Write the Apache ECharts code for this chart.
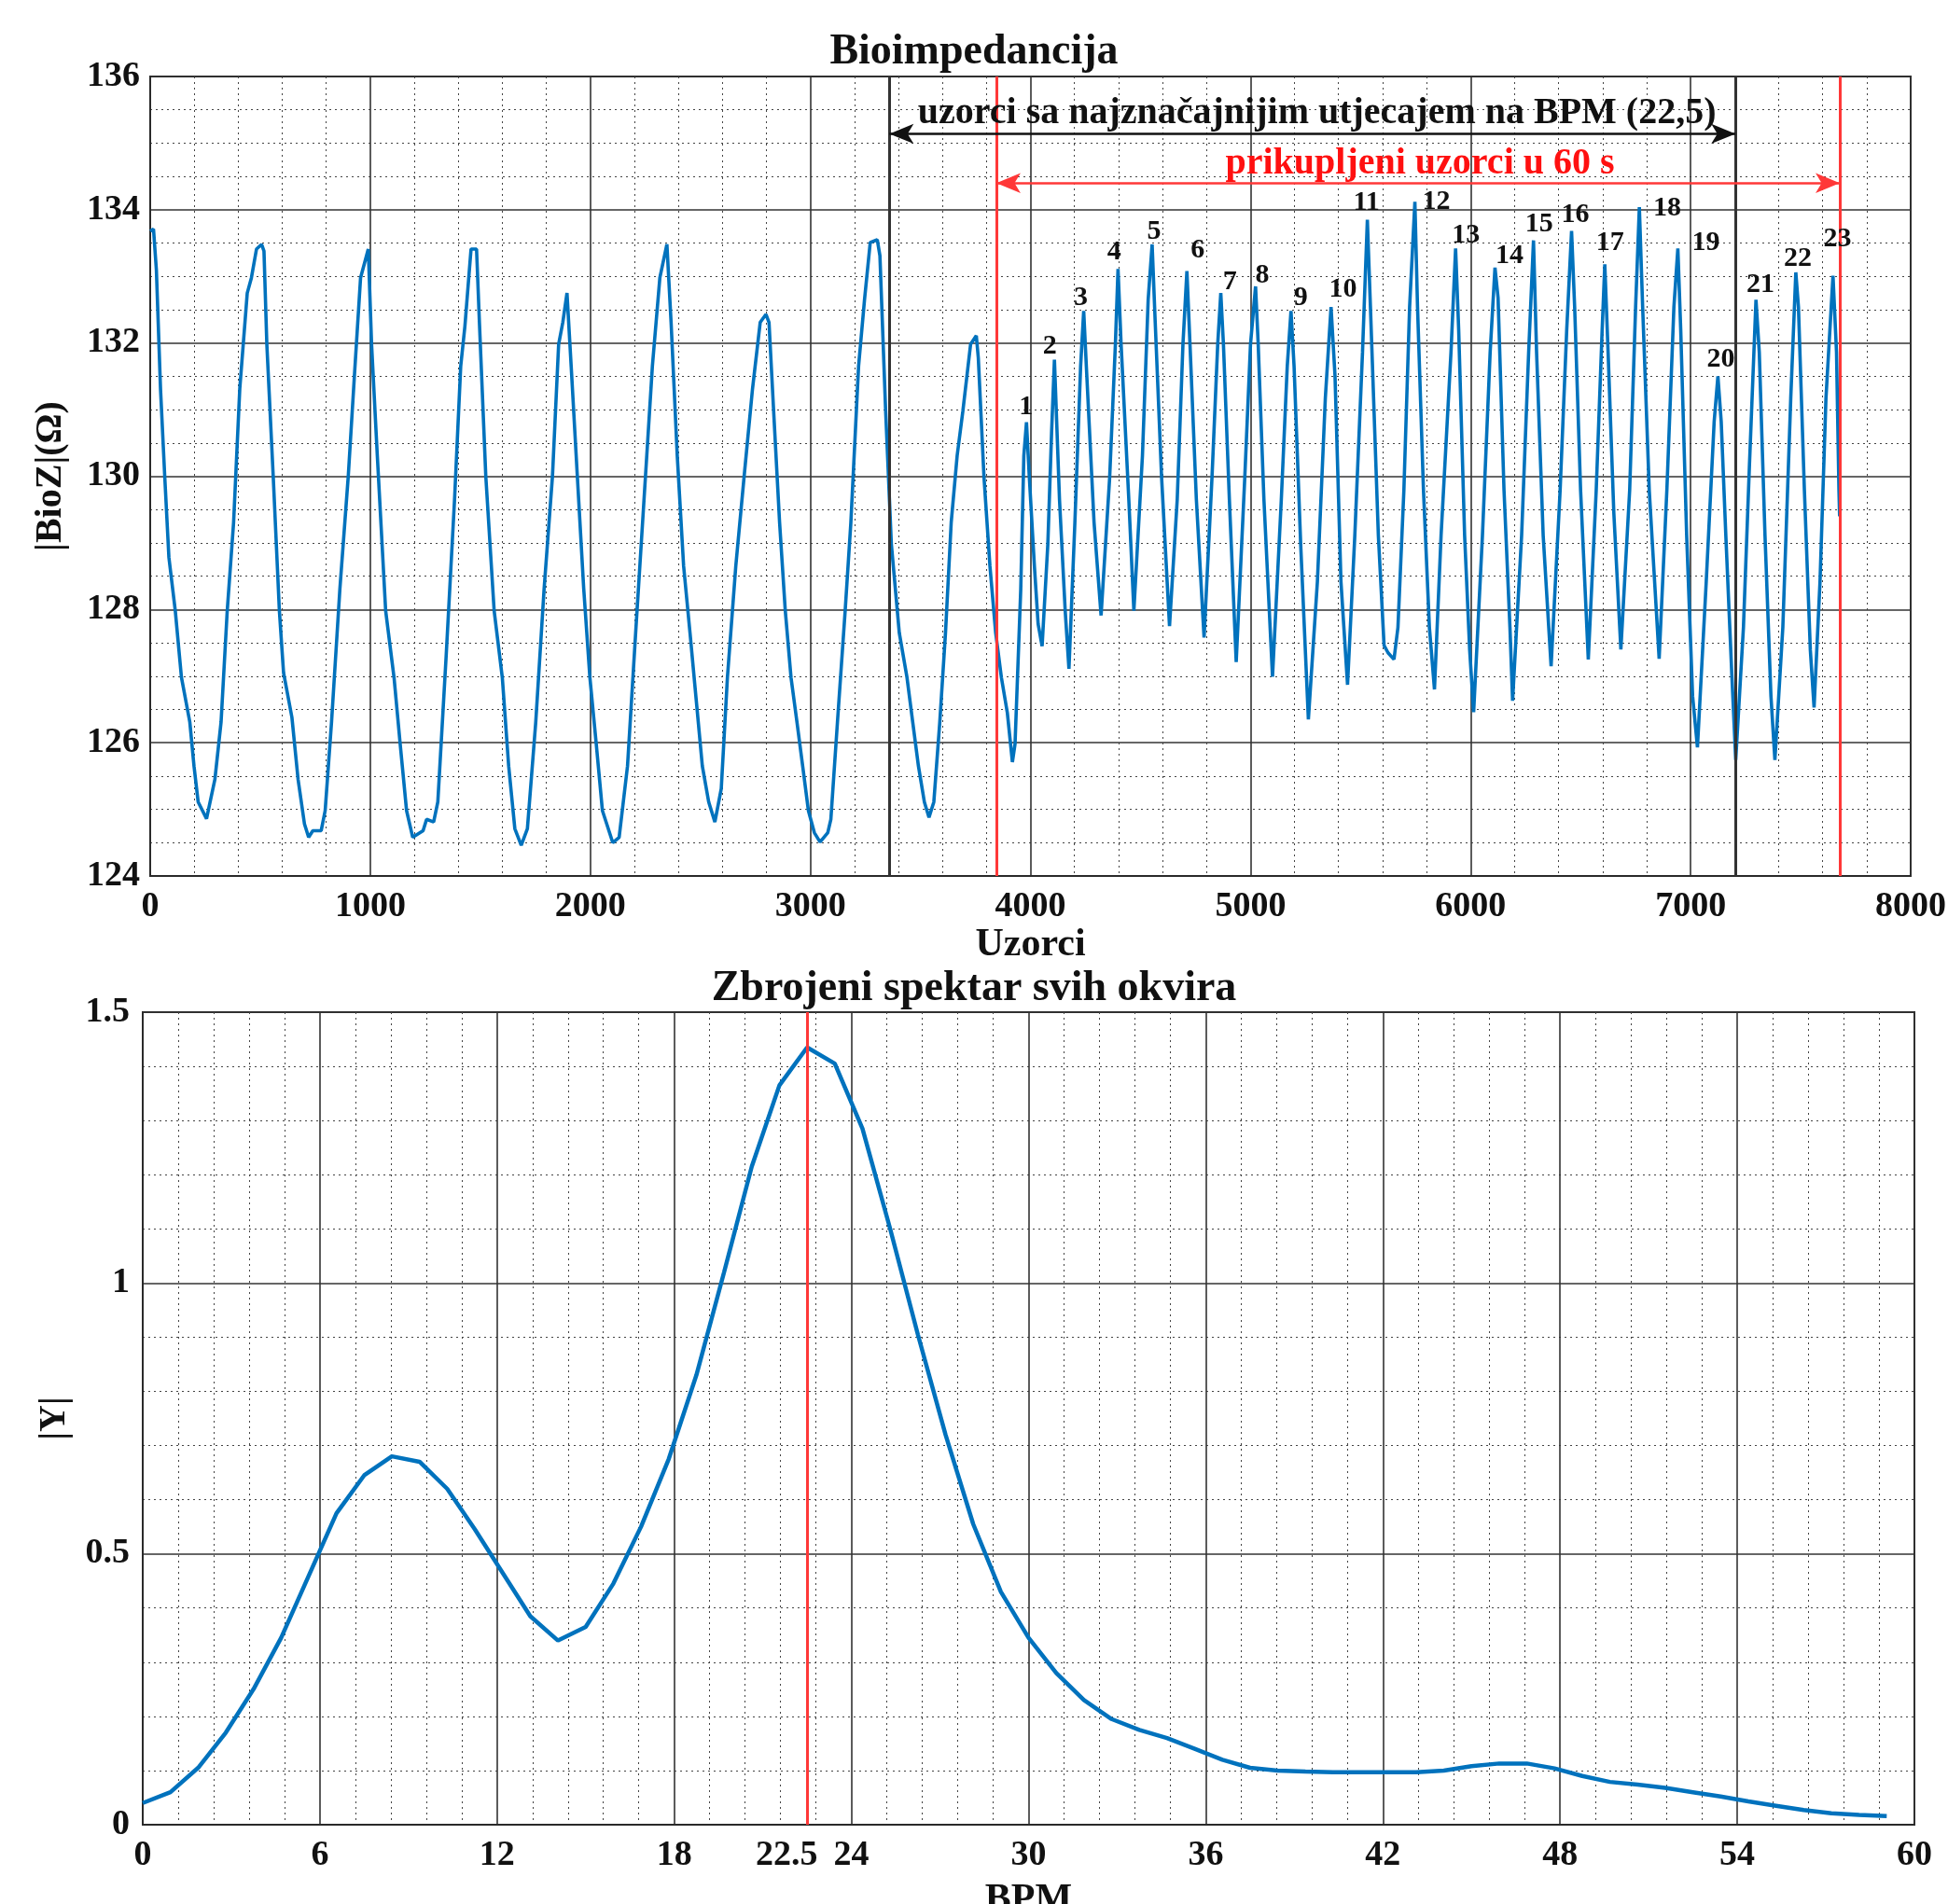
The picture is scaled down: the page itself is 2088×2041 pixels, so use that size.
<!DOCTYPE html>
<html><head><meta charset="utf-8">
<script src="https://cdn.jsdelivr.net/npm/echarts@6/dist/echarts.min.js"></script>
<style>html,body{margin:0;padding:0;background:#fff}#c{width:2088px;height:2041px}</style>
</head><body><div id="c"></div>
<script>
// ---- Top chart: bioimpedance signal (sample index, |BioZ| in ohm) ----
const bioSamples = [0,15,28,47,66,85,114,142,180,199,218,256,294,322,350,379,407,441,460,483,506,517,530,559,587,606,644,672,701,720,739,777,795,824,862,900,928,956,991,1006,1032,1070,1108,1136,1165,1193,1240,1256,1288,1307,1345,1383,1411,1430,1458,1483,1496,1525,1563,1600,1629,1657,1686,1714,1752,1790,1828,1856,1875,1894,1913,1941,1970,1998,2027,2055,2102,2131,2169,2206,2244,2282,2316,2348,2367,2395,2424,2453,2481,2509,2538,2566,2595,2623,2661,2699,2737,2772,2798,2812,2833,2860,2886,2912,2939,2965,2991,3018,3044,3079,3093,3123,3158,3184,3219,3246,3272,3304,3316,3342,3368,3404,3439,3465,3491,3518,3539,3561,3588,3614,3640,3667,3693,3728,3754,3763,3789,3816,3842,3868,3895,3918,3930,3956,3970,3982,3995,4018,4035,4053,4079,4096,4109,4132,4158,4175,4202,4228,4242,4254,4289,4321,4360,4386,4398,4412,4447,4470,4509,4535,4553,4567,4596,4632,4667,4693,4711,4725,4754,4789,4825,4851,4865,4877,4904,4935,4974,5000,5023,5035,5061,5100,5140,5167,5184,5198,5228,5263,5304,5340,5366,5384,5411,5441,5474,5509,5531,5545,5581,5607,5625,5652,5670,5697,5723,5747,5759,5786,5813,5836,5866,5911,5932,5946,5973,5996,6014,6054,6089,6111,6125,6152,6179,6191,6232,6264,6286,6300,6330,6366,6407,6437,6459,6473,6500,6535,6571,6598,6610,6625,6651,6683,6723,6750,6767,6782,6812,6857,6892,6924,6942,6955,6982,7009,7031,7071,7107,7124,7139,7160,7187,7205,7240,7267,7297,7312,7338,7365,7383,7419,7455,7478,7490,7517,7544,7561,7588,7615,7647,7663,7674,7677];
const bioValues = [133.68,133.71,133.1,131.3,130.0,128.78,127.98,126.98,126.31,125.65,125.11,124.86,125.45,126.31,127.98,129.31,131.31,132.75,132.98,133.41,133.48,133.38,131.98,130.0,127.98,127.05,126.38,125.45,124.78,124.58,124.68,124.68,124.98,126.31,128.31,130.0,131.51,132.98,133.41,131.98,130.31,127.98,126.98,125.98,124.98,124.58,124.68,124.85,124.81,125.11,127.31,129.65,131.65,132.25,133.41,133.41,132.31,130.0,127.98,126.98,125.65,124.71,124.46,124.71,126.31,128.31,130.0,131.98,132.31,132.75,131.65,130.0,128.31,126.98,125.98,124.98,124.5,124.58,125.65,127.65,129.65,131.65,132.98,133.48,132.31,130.31,128.65,127.65,126.65,125.65,125.11,124.81,125.31,126.98,128.65,130.0,131.31,132.31,132.43,132.31,130.98,129.31,127.98,126.98,126.31,125.65,124.98,124.65,124.51,124.65,124.85,126.31,127.98,129.31,131.65,132.65,133.51,133.55,133.31,130.98,128.98,127.65,126.98,126.31,125.65,125.11,124.88,125.11,126.31,127.65,129.31,130.31,130.98,131.98,132.11,131.78,129.98,128.65,127.65,126.98,126.45,125.71,125.98,128.31,130.31,130.81,129.98,128.65,127.78,127.45,128.98,130.65,131.75,129.65,127.98,127.11,129.31,131.65,132.48,131.65,129.31,127.91,129.98,131.98,133.11,131.98,129.65,127.98,130.31,132.65,133.48,132.31,129.98,127.75,129.65,131.98,133.08,131.98,129.65,127.58,129.98,131.98,132.75,131.98,129.65,127.21,129.98,131.98,132.85,131.98,129.65,126.99,129.65,131.65,132.48,131.65,128.98,126.35,128.42,131.17,132.54,131.51,128.42,126.87,129.11,131.86,133.85,132.54,129.11,127.46,127.35,127.25,127.73,129.79,132.54,134.12,132.54,129.79,127.73,126.8,129.11,131.86,133.42,132.2,129.11,127.39,126.46,129.11,131.86,133.13,132.68,129.79,127.73,126.63,129.11,131.86,133.54,131.86,129.11,127.15,129.79,132.2,133.68,132.54,129.79,127.25,129.79,132.2,133.18,131.86,129.45,127.4,129.79,132.54,134.04,132.54,129.79,127.26,129.79,132.54,133.42,132.2,129.11,126.7,125.93,128.42,130.82,131.5,130.82,129.11,127.04,125.74,127.73,130.14,132.65,131.86,129.11,126.7,125.74,127.73,131.17,133.06,132.54,129.79,127.39,126.53,128.42,131.17,133.01,131.86,129.79,129.4];

// peak numbers written over the fast breaths
const peakNames = ['1','2','3','4','5','6','7','8','9','10','11','12','13','14','15','16','17','18','19','20','21','22','23'];
const peakNameSamples = [3980,4088,4229,4381,4562,4760,4906,5053,5228,5420,5527,5844,5979,6177,6312,6476,6634,6894,7069,7137,7317,7487,7667];
const peakNameValues = [131.04,131.95,132.68,133.37,133.67,133.39,132.92,133.01,132.68,132.81,134.10,134.12,133.61,133.31,133.78,133.93,133.5,134.02,133.5,131.76,132.88,133.26,133.56];

// window markers (sample index)
const blackMarkers = [3359, 7204];
const redMarkers = [3845, 7678];
const blackArrowLevel = 135.14;
const redArrowLevel = 134.40;
const blackNote = 'uzorci sa najznačajnijim utjecajem na BPM (22,5)';
const redNote = 'prikupljeni uzorci u 60 s';
const blackNotePos = [5302, 135.44];
const redNotePos = [5770, 134.69];

// ---- Bottom chart: summed spectrum ----
const bpmBins = [0,0.9375,1.875,2.8125,3.75,4.6875,5.625,6.5625,7.5,8.4375,9.375,10.3125,11.25,12.1875,13.125,14.0625,15,15.9375,16.875,17.8125,18.75,19.6875,20.625,21.5625,22.5,23.4375,24.375,25.3125,26.25,27.1875,28.125,29.0625,30,30.9375,31.875,32.8125,33.75,34.6875,35.625,36.5625,37.5,38.4375,39.375,40.3125,41.25,42.1875,43.125,44.0625,45,45.9375,46.875,47.8125,48.75,49.6875,50.625,51.5625,52.5,53.4375,54.375,55.3125,56.25,57.1875,58.125,59.0625];
const spectrum = [0.04,0.06,0.105,0.17,0.25,0.345,0.46,0.575,0.645,0.68,0.67,0.62,0.545,0.465,0.385,0.34,0.365,0.445,0.55,0.675,0.83,1.02,1.215,1.365,1.435,1.405,1.285,1.1,0.905,0.72,0.555,0.43,0.345,0.28,0.23,0.195,0.175,0.16,0.14,0.12,0.105,0.1,0.098,0.097,0.097,0.097,0.097,0.1,0.108,0.113,0.113,0.104,0.09,0.079,0.074,0.068,0.06,0.052,0.043,0.035,0.027,0.021,0.018,0.016];
const peakBpm = 22.5;

const FONT = 'Liberation Serif';
const BLUE = '#0072BD';
const RED = '#ff3838';
const DARK = '#333333';
const TXT = '#111111';

function axisCommon() {
  return {
    axisLine: {show: true, lineStyle: {color: '#2a2a2a', width: 2}},
    axisTick: {show: false},
    splitLine: {show: true, lineStyle: {color: '#333', width: 1.6}},
    minorSplitLine: {show: true, lineStyle: {color: '#444', width: 1, type: [2, 4]}},
    axisLabel: {color: TXT, fontFamily: FONT, fontWeight: 'bold', fontSize: 38, formatter: v => String(v)},
    nameTextStyle: {color: TXT, fontFamily: FONT, fontWeight: 'bold', fontSize: 40}
  };
}

const chart = echarts.init(document.getElementById('c'), null, {renderer: 'canvas'});

const xTop = Object.assign(axisCommon(), {
  type: 'value', gridIndex: 0, min: 0, max: 8000, interval: 1000,
  minorTick: {show: false, splitNumber: 5},
  name: 'Uzorci', nameLocation: 'middle', nameGap: 46
});
xTop.axisLabel = Object.assign({}, xTop.axisLabel, {margin: 14});
xTop.nameTextStyle = Object.assign({}, xTop.nameTextStyle, {fontSize: 42});

const yTop = Object.assign(axisCommon(), {
  type: 'value', gridIndex: 0, min: 124, max: 136, interval: 2,
  minorTick: {show: false, splitNumber: 4},
  name: '|BioZ|(Ω)', nameLocation: 'middle', nameGap: 86, nameRotate: 90
});
yTop.axisLabel = Object.assign({}, yTop.axisLabel, {margin: 11});

const xBot = Object.assign(axisCommon(), {
  type: 'value', gridIndex: 1, min: 0, max: 60, interval: 6,
  minorTick: {show: false, splitNumber: 5},
  name: 'BPM', nameLocation: 'middle', nameGap: 60
});
xBot.axisLabel = Object.assign({}, xBot.axisLabel, {margin: 14});
xBot.nameTextStyle = Object.assign({}, xBot.nameTextStyle, {fontSize: 42});

const yBot = Object.assign(axisCommon(), {
  type: 'value', gridIndex: 1, min: 0, max: 1.5, interval: 0.5,
  minorTick: {show: false, splitNumber: 5},
  name: '|Y|', nameLocation: 'middle', nameGap: 74, nameRotate: 90
});
yBot.axisLabel = Object.assign({}, yBot.axisLabel, {margin: 14});

const vLine = (x, color) => ({xAxis: x, lineStyle: {color: color, width: 3, type: 'solid'}});
const arrow = (x0, x1, y, color) => [
  {coord: [x0, y], symbol: 'arrow', symbolSize: [16, 26], lineStyle: {color: color, width: 2.5, type: 'solid'}},
  {coord: [x1, y], symbol: 'arrow', symbolSize: [16, 26]}
];
const textLabel = (color, size) => ({
  show: true, position: 'inside', formatter: '{b}', color: color, opacity: 1,
  textBorderWidth: 0, fontFamily: FONT, fontWeight: 'bold', fontSize: size
});

const option = {
  backgroundColor: '#ffffff',
  animation: false,
  grid: [
    {left: 161, top: 82, width: 1887, height: 857, outerBoundsMode: 'none', containLabel: false, show: true, borderColor: '#2a2a2a', borderWidth: 2, backgroundColor: '#fff'},
    {left: 153, top: 1085, width: 1899, height: 871, outerBoundsMode: 'none', containLabel: false, show: true, borderColor: '#2a2a2a', borderWidth: 2, backgroundColor: '#fff'}
  ],
  xAxis: [xTop, xBot],
  yAxis: [yTop, yBot],
  graphic: [
    {type: 'text', left: 'center', top: 33, style: {text: 'Bioimpedancija', fontFamily: FONT, fontWeight: 'bold', fontSize: 46, fill: TXT}},
    {type: 'text', left: 'center', top: 1037, style: {text: 'Zbrojeni spektar svih okvira', fontFamily: FONT, fontWeight: 'bold', fontSize: 46, fill: TXT}}
  ],
  series: [
    {
      type: 'line', xAxisIndex: 0, yAxisIndex: 0, showSymbol: false, symbol: 'none',
      data: bioSamples.map((s, i) => [s, bioValues[i]]),
      lineStyle: {color: BLUE, width: 3.6}, z: 3,
      markLine: {
        silent: true, symbol: ['none', 'none'], label: {show: false},
        data: [
          vLine(blackMarkers[0], DARK), vLine(blackMarkers[1], DARK),
          vLine(redMarkers[0], RED), vLine(redMarkers[1], RED),
          arrow(blackMarkers[0], blackMarkers[1], blackArrowLevel, '#111'),
          arrow(redMarkers[0], redMarkers[1], redArrowLevel, RED)
        ]
      }
    },
    {
      type: 'scatter', xAxisIndex: 0, yAxisIndex: 0, symbolSize: 0,
      itemStyle: {color: TXT, opacity: 1}, silent: true, z: 5,
      data: peakNames.map((n, i) => ({name: n, value: [peakNameSamples[i], peakNameValues[i]]})),
      label: textLabel(TXT, 30)
    },
    {
      type: 'scatter', xAxisIndex: 0, yAxisIndex: 0, symbolSize: 0,
      itemStyle: {color: TXT, opacity: 1}, silent: true, z: 5,
      data: [
        {name: blackNote, value: blackNotePos, label: {color: TXT}},
        {name: redNote, value: redNotePos, label: {color: '#ff1010'}}
      ],
      label: textLabel(TXT, 40)
    },
    {
      type: 'line', xAxisIndex: 1, yAxisIndex: 1, showSymbol: false, symbol: 'none',
      data: bpmBins.map((b, i) => [b, spectrum[i]]),
      lineStyle: {color: BLUE, width: 4.5}, z: 3,
      markLine: {
        silent: true, symbol: ['none', 'none'],
        data: [{
          xAxis: peakBpm, lineStyle: {color: RED, width: 3, type: 'solid'},
          label: {show: true, position: 'start', formatter: String(peakBpm), distance: 14, offset: [-22, 0],
                  color: TXT, fontFamily: FONT, fontWeight: 'bold', fontSize: 38}
        }]
      }
    }
  ]
};
chart.setOption(option);
</script></body></html>
